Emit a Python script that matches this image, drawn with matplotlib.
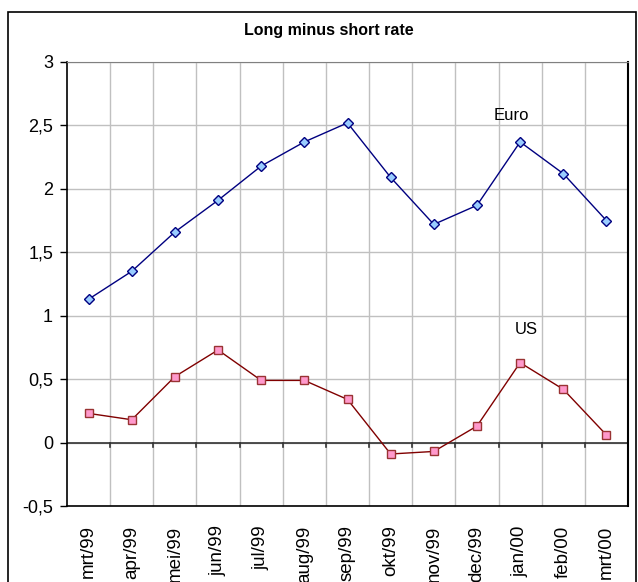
import matplotlib
matplotlib.use("Agg")
import matplotlib.pyplot as plt
from matplotlib.patches import Rectangle

months = ["mrt/99", "apr/99", "mei/99", "jun/99", "jul/99", "aug/99", "sep/99",
          "okt/99", "nov/99", "dec/99", "jan/00", "feb/00", "mrt/00"]
euro = [1.13, 1.35, 1.66, 1.91, 2.18, 2.37, 2.52, 2.09, 1.72, 1.87, 2.37, 2.12, 1.75]
us = [0.23, 0.18, 0.52, 0.73, 0.49, 0.49, 0.34, -0.09, -0.07, 0.13, 0.63, 0.42, 0.06]
yticks = [-0.5, 0, 0.5, 1, 1.5, 2, 2.5, 3]
ytick_labels = ["-0,5", "0", "0,5", "1", "1,5", "2", "2,5", "3"]

plt.rcParams['font.family'] = ['Liberation Sans', 'DejaVu Sans']

fig = plt.figure(figsize=(6.38, 5.82), dpi=100)
fig.patches.append(Rectangle((8/638, -0.05), (636-8)/638, 1 - 12/582 + 0.05,
                             transform=fig.transFigure, fill=False,
                             edgecolor='black', linewidth=1.2))

ax = fig.add_axes([67/638, 1 - 506/582, (628-67)/638, (506-62)/582])
x = list(range(len(months)))

for b in [i + 0.5 for i in range(len(months) - 1)]:
    ax.axvline(b, color='#c0c0c0', linewidth=1, zorder=0)
for yv in yticks:
    ax.axhline(yv, color='#c0c0c0', linewidth=1, zorder=0)

ax.axhline(0, color='#333333', linewidth=1.2, zorder=1)
for b in [i + 0.5 for i in range(len(months) - 1)]:
    ax.plot([b, b], [0, -0.035], color='#333333', linewidth=1.2, zorder=1, clip_on=False)

ax.plot(x, euro, color='#000080', linewidth=1, marker='D', markersize=5,
        markerfacecolor='#99ccff', markeredgecolor='#000080', markeredgewidth=1, zorder=3)
ax.plot(x, us, color='#800000', linewidth=1, marker='s', markersize=5.5,
        markerfacecolor='#ff99cc', markeredgecolor='#993333', markeredgewidth=1, zorder=3)

ax.text(9.8, 2.58, "Euro", fontsize=12, ha='center', va='center')
ax.text(10.15, 0.89, "US", fontsize=12, ha='center', va='center')

ax.set_xlim(-0.5, 12.5)
ax.set_ylim(-0.5, 3)
ax.set_yticks(yticks)
ax.set_yticklabels(ytick_labels, fontsize=13)
ax.set_xticks(x)
ax.set_xticklabels(months, rotation=90, fontsize=13.5, va='top', ha='center')
ax.tick_params(axis='x', length=0, pad=14)
ax.tick_params(axis='y', length=5, direction='out', width=1, pad=5)

for side in ['left', 'bottom']:
    ax.spines[side].set_color('black')
    ax.spines[side].set_linewidth(1.2)
ax.spines['top'].set_color('#808080')
ax.spines['right'].set_color('black')
ax.spines['right'].set_linewidth(1.5)

fig.text(0.5 + 10/638, 1 - 30/582, "Long minus short rate", fontsize=11.5, fontweight='bold',
         ha='center', va='center')

fig.savefig("out.png", dpi=100)
